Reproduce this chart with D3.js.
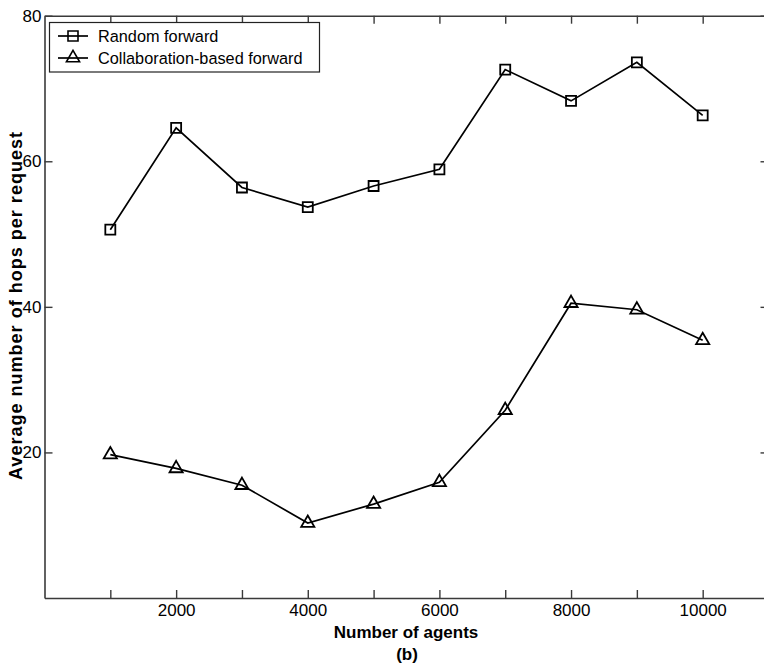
<!DOCTYPE html>
<html>
<head>
<meta charset="utf-8">
<script src="https://cdn.jsdelivr.net/npm/d3@7"></script>
<style>
  html, body { margin: 0; padding: 0; background: #fff; }
  svg { display: block; }
  text { font-family: Arial, "Liberation Sans", sans-serif; fill: #000; }
</style>
</head>
<body>
<svg id="chart" width="764" height="668"></svg>
<script>
const agents = [1000, 2000, 3000, 4000, 5000, 6000, 7000, 8000, 9000, 10000];
const randomForward = [50.6, 64.6, 56.4, 53.7, 56.6, 58.9, 72.6, 68.3, 73.6, 66.3];
const collabForward = [19.7, 17.8, 15.5, 10.3, 12.9, 15.9, 25.8, 40.5, 39.6, 35.4];
const xTicks = [1000, 2000, 3000, 4000, 5000, 6000, 7000, 8000, 9000, 10000];
const xTickLabels = ["", "2000", "", "4000", "", "6000", "", "8000", "", "10000"];
const yTicks = [20, 40, 60, 80];
const seriesNames = ["Random forward", "Collaboration-based forward"];

const svg = d3.select("#chart");
const mLeft = 44.5, mRight = 768.5, mTop = 15.7, mBottom = 598;
const x = d3.scaleLinear().domain([0, 11000]).range([mLeft, mRight]);
const y = d3.scaleLinear().domain([0, 80]).range([mBottom, mTop]);

const axisColor = "#3a3a3a";
const tickFont = "'Liberation Sans Narrow', 'Arial Narrow', Arial, sans-serif";
function styleAxis(g) {
  g.select(".domain").attr("stroke", axisColor).attr("stroke-width", 1.6);
  g.selectAll(".tick line").attr("stroke", axisColor).attr("stroke-width", 1.4);
  g.selectAll(".tick text").attr("font-size", 17).attr("font-family", tickFont).attr("fill", "#111");
}

// bottom axis, ticks inward
svg.append("g").attr("transform", `translate(0,${mBottom})`)
  .call(d3.axisBottom(x).tickValues(xTicks).tickSizeInner(-8).tickSizeOuter(0)
    .tickPadding(6).tickFormat((d, i) => xTickLabels[i]))
  .call(styleAxis);
// top axis, ticks inward, no labels
svg.append("g").attr("transform", `translate(0,${mTop})`)
  .call(d3.axisTop(x).tickValues(xTicks).tickSizeInner(-8).tickSizeOuter(0).tickFormat(""))
  .call(styleAxis);
// left axis
svg.append("g").attr("transform", `translate(${mLeft},0)`)
  .call(d3.axisLeft(y).tickValues(yTicks).tickSizeInner(-8).tickSizeOuter(0))
  .call(styleAxis)
  .call(g => g.selectAll(".tick text").attr("x", -3));
// right axis
svg.append("g").attr("transform", `translate(${mRight},0)`)
  .call(d3.axisRight(y).tickValues(yTicks).tickSizeInner(-8).tickSizeOuter(0).tickFormat(""))
  .call(styleAxis);

const line = d3.line().x((d, i) => x(agents[i])).y(d => y(d));

svg.append("path").datum(randomForward).attr("d", line)
  .attr("fill", "none").attr("stroke", "#000").attr("stroke-width", 1.7);
svg.append("path").datum(collabForward).attr("d", line)
  .attr("fill", "none").attr("stroke", "#000").attr("stroke-width", 1.7);

const sq = d3.symbol().type(d3.symbolSquare).size(100);
const tri = d3.symbol().type(d3.symbolTriangle).size(75);

svg.append("g").selectAll("path").data(randomForward).join("path")
  .attr("d", sq)
  .attr("transform", (d, i) => `translate(${x(agents[i])},${y(d)})`)
  .attr("fill", "none").attr("stroke", "#000").attr("stroke-width", 1.8);
svg.append("g").selectAll("path").data(collabForward).join("path")
  .attr("d", tri)
  .attr("transform", (d, i) => `translate(${x(agents[i])},${y(d)})`)
  .attr("fill", "none").attr("stroke", "#000").attr("stroke-width", 1.8);

// legend
const lg = svg.append("g");
lg.append("rect").attr("x", 49.5).attr("y", 22.5).attr("width", 270).attr("height", 49.5)
  .attr("fill", "#fff").attr("stroke", "#222").attr("stroke-width", 1.2);
const rows = [{ name: seriesNames[0], sym: sq, yy: 36 }, { name: seriesNames[1], sym: tri, yy: 58 }];
rows.forEach(r => {
  lg.append("line").attr("x1", 58).attr("x2", 88).attr("y1", r.yy).attr("y2", r.yy)
    .attr("stroke", "#000").attr("stroke-width", 1.7);
  lg.append("path").attr("d", r.sym).attr("transform", `translate(73,${r.yy})`)
    .attr("fill", "none").attr("stroke", "#000").attr("stroke-width", 1.6);
  lg.append("text").attr("x", 98).attr("y", r.yy + 6).attr("font-size", 16.3).text(r.name);
});

// axis titles
svg.append("text").attr("x", 406).attr("y", 638).attr("text-anchor", "middle")
  .attr("font-size", 17).attr("font-weight", "bold").text("Number of agents");
svg.append("text").attr("x", 407).attr("y", 660).attr("text-anchor", "middle")
  .attr("font-size", 17).attr("font-weight", "bold").text("(b)");
svg.append("text").attr("transform", "translate(22,306) rotate(-90)").attr("text-anchor", "middle")
  .attr("font-size", 18).attr("font-weight", "bold")
  .attr("textLength", 348).attr("lengthAdjust", "spacing")
  .text("Average number of hops per request");
</script>
</body>
</html>
